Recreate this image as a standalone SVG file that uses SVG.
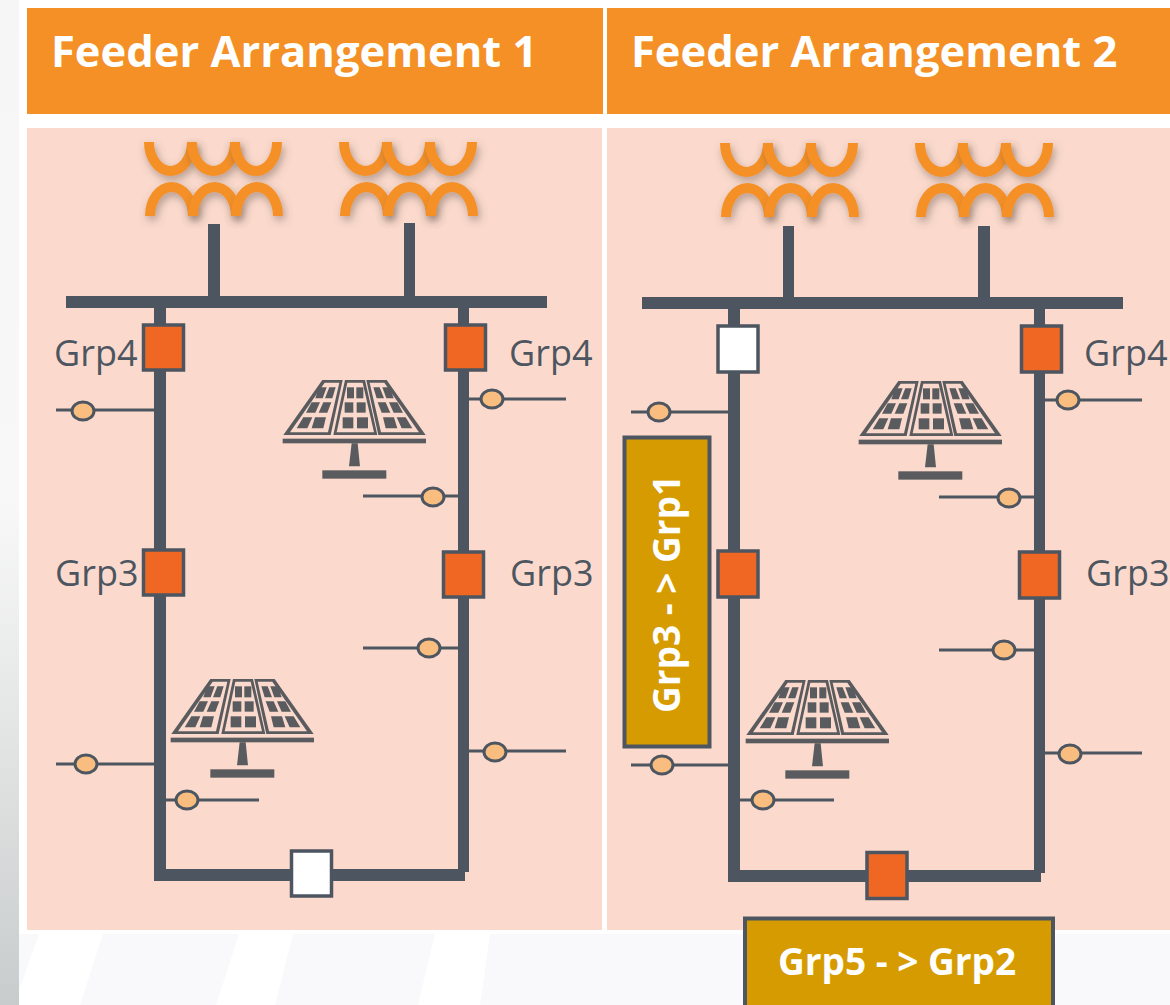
<svg xmlns="http://www.w3.org/2000/svg" width="1170" height="1005" viewBox="0 0 1170 1005">
<style>
.hdr{fill:#f49025}
.bg{fill:#fbdacd}
.stripe{fill:#f9f9fb}
.wire{fill:#4d5660}
.tap{stroke:#4d5660;stroke-width:3;fill:none}
.dot{fill:#f8bd7f;stroke:#4d5660;stroke-width:3}
.sw{stroke:#4d5660;stroke-width:3.5}
.on{fill:#f06724}
.off{fill:#ffffff}
.coil{fill:none;stroke:#f49025;stroke-width:10;filter:url(#sh)}
.pv{fill:#595b5e}
.pvl{fill:#fbdacd}
.title{font-family:"Open Sans",sans-serif;font-weight:700;font-size:43.5px;fill:#ffffff}
.grp{font-family:"Open Sans",sans-serif;font-size:36px;fill:#4d5660}
.tag{fill:#d69b00;stroke:#4d5660;stroke-width:4}
.tagt{font-family:"Open Sans",sans-serif;font-weight:700;font-size:37px;fill:#ffffff;text-anchor:middle}
</style>
<defs>
<linearGradient id="strip" x1="0" y1="0" x2="0" y2="1">
<stop offset="0" stop-color="#f6f6f6"/><stop offset="0.5" stop-color="#f8f8f8"/><stop offset="0.72" stop-color="#e4e6e5"/><stop offset="1" stop-color="#c8cccc"/>
</linearGradient>
<filter id="sh" x="-60%" y="-60%" width="220%" height="240%">
<feDropShadow dx="2" dy="4" stdDeviation="4" flood-color="#5a4a40" flood-opacity="0.45"/>
</filter>
<g id="xf">
<path class="coil" d="M5 0A21.5 29 0 0 0 48 0"/><path class="coil" d="M48 0A21.5 29 0 0 0 91 0"/><path class="coil" d="M91 0A21 29 0 0 0 133 0"/>
<path class="coil" d="M6 74A21.5 29 0 0 1 49 74"/><path class="coil" d="M49 74A21.5 29 0 0 1 92 74"/><path class="coil" d="M92 74A21 29 0 0 1 134 74"/>
</g>
<g id="wing">
<polygon class="pv" points="157,60 218,60 182,225 40,225"/>
<polygon class="pvl" points="164,68 208,68 174,217 60,217"/>
<polygon class="pv" points="147,82 170,82 158,115 136,115"/><polygon class="pv" points="178,82 197,82 187,115 165,115"/>
<polygon class="pv" points="125,127 150,127 136,158 108,158"/><polygon class="pv" points="160,127 184,127 172,158 146,158"/>
<polygon class="pv" points="100,172 127,172 112,205 80,205"/><polygon class="pv" points="135,172 168,172 160,205 125,205"/>
</g>
<g id="solar" transform="scale(0.3333)">
<use href="#wing"/>
<use href="#wing" transform="translate(507,0) scale(-1,1)"/>
<polygon class="pv" points="225,60 285,60 322,225 190,225"/>
<polygon class="pvl" points="232,68 278,68 312,217 200,217"/>
<rect class="pv" x="231" y="82" width="21" height="33"/><rect class="pv" x="259" y="82" width="21" height="33"/>
<rect class="pv" x="224" y="127" width="26" height="31"/><rect class="pv" x="260" y="127" width="27" height="31"/>
<rect class="pv" x="218" y="172" width="32" height="33"/><rect class="pv" x="261" y="172" width="33" height="33"/>
<rect class="pv" x="38" y="236" width="430" height="14"/>
<polygon class="pv" points="245,250 263,250 270,319 237,319"/>
<rect class="pv" x="157" y="331" width="192" height="25"/>
</g>
</defs>

<rect width="1170" height="1005" fill="#ffffff"/>
<rect x="0" y="0" width="19" height="1005" fill="url(#strip)"/>
<g id="stripes">
<polygon class="stripe" points="19,934 39,934 19,990"/>
<polygon class="stripe" points="103,934 239,934 216,1005 80,1005"/>
<polygon class="stripe" points="293,934 435,934 418,1005 275,1005"/>
<polygon class="stripe" points="490,934 745,934 745,1005 480,1005"/>
<polygon class="stripe" points="1056,934 1170,934 1170,1005 1052,1005"/>
</g>

<g id="header-1"><rect class="hdr" x="27" y="8" width="576" height="106"/><text class="title" x="51" y="67">Feeder Arrangement 1</text></g>
<g id="header-2"><rect class="hdr" x="607" y="8" width="563" height="106"/><text class="title" x="631" y="67">Feeder Arrangement 2</text></g>
<rect id="panel-1" class="bg" x="27" y="128" width="575" height="802"/>
<rect id="panel-2" class="bg" x="607" y="128" width="563" height="802"/>

<g id="connectors">
<rect class="wire" x="208" y="224" width="12" height="73"/>
<rect class="wire" x="404" y="223" width="11" height="74"/>
<rect class="wire" x="66" y="296" width="481" height="12"/>
<rect class="wire" x="154" y="308" width="12" height="573"/>
<rect class="wire" x="458" y="308" width="11" height="564"/>
<rect class="wire" x="154" y="869" width="311" height="12"/>
<path class="tap" d="M56 410H154M363 496H458M363 648H458M56 764H154M166 800H259M469 399H566M469 751H566"/>

<rect class="wire" x="783" y="226" width="11" height="72"/>
<rect class="wire" x="978" y="226" width="12" height="72"/>
<rect class="wire" x="642" y="297" width="481" height="12"/>
<rect class="wire" x="728" y="309" width="12" height="573"/>
<rect class="wire" x="1034" y="309" width="11" height="564"/>
<rect class="wire" x="729" y="870" width="312" height="12"/>
<path class="tap" d="M631 412H728M939 497H1034M939 650H1034M631 765H728M740 800H834M1045 400H1142M1045 753H1142"/>
</g>

<g id="transformers-1"><use href="#xf" x="144" y="142"/><use href="#xf" x="339" y="142"/></g>
<g id="transformers-2"><use href="#xf" x="720" y="143"/><use href="#xf" x="915" y="143"/></g>

<g id="solar-1"><use href="#solar" transform="translate(270,360)"/></g>
<g id="solar-2"><use href="#solar" transform="translate(158,659)"/></g>
<g id="solar-3"><use href="#solar" transform="translate(846,361)"/></g>
<g id="solar-4"><use href="#solar" transform="translate(733,660)"/></g>

<g id="taps-1">
<ellipse class="dot" cx="83" cy="411" rx="11" ry="9"/>
<ellipse class="dot" cx="433" cy="497" rx="11" ry="9"/>
<ellipse class="dot" cx="429" cy="648" rx="11" ry="9"/>
<ellipse class="dot" cx="86" cy="764" rx="11" ry="9"/>
<ellipse class="dot" cx="187" cy="800" rx="11" ry="9"/>
<ellipse class="dot" cx="492" cy="399" rx="11" ry="9"/>
<ellipse class="dot" cx="495" cy="752" rx="11" ry="9"/>
</g>
<g id="taps-2">
<ellipse class="dot" cx="659" cy="412" rx="11" ry="9"/>
<ellipse class="dot" cx="1009" cy="498" rx="11" ry="9"/>
<ellipse class="dot" cx="1004" cy="650" rx="11" ry="9"/>
<ellipse class="dot" cx="662" cy="765" rx="11" ry="9"/>
<ellipse class="dot" cx="763" cy="800" rx="11" ry="9"/>
<ellipse class="dot" cx="1068" cy="400" rx="11" ry="9"/>
<ellipse class="dot" cx="1070" cy="754" rx="11" ry="9"/>
</g>

<g id="sw-a1-grp4-l"><rect class="sw on" x="143.5" y="325" width="40" height="45"/><text class="grp" x="54" y="366">Grp4</text></g>
<g id="sw-a1-grp3-l"><rect class="sw on" x="143.5" y="550" width="40" height="45"/><text class="grp" x="55" y="586">Grp3</text></g>
<g id="sw-a1-grp4-r"><rect class="sw on" x="445.5" y="325" width="40" height="45"/><text class="grp" x="509" y="366">Grp4</text></g>
<g id="sw-a1-grp3-r"><rect class="sw on" x="443.5" y="552" width="40" height="45"/><text class="grp" x="510" y="586">Grp3</text></g>
<g id="sw-a1-bottom"><rect class="sw off" x="291.5" y="851" width="40" height="45"/></g>

<g id="sw-a2-top-l"><rect class="sw off" x="718" y="326" width="40" height="46"/></g>
<g id="sw-a2-mid-l"><rect class="sw on" x="718" y="551" width="40" height="46"/></g>
<g id="sw-a2-grp4-r"><rect class="sw on" x="1021.5" y="326" width="40" height="46"/><text class="grp" x="1084" y="366">Grp4</text></g>
<g id="sw-a2-grp3-r"><rect class="sw on" x="1019.5" y="552" width="40" height="46"/><text class="grp" x="1086" y="586">Grp3</text></g>
<g id="sw-a2-bottom"><rect class="sw on" x="867" y="852.5" width="40" height="46"/></g>

<g id="tag-grp3"><rect class="tag" x="624.5" y="437.5" width="85" height="309"/><text class="tagt" transform="translate(680,594) rotate(-90)">Grp3 - &gt; Grp1</text></g>
<g id="tag-grp5"><rect class="tag" x="745" y="918.5" width="308" height="90"/><text class="tagt" x="897" y="975">Grp5 - &gt; Grp2</text></g>
</svg>
